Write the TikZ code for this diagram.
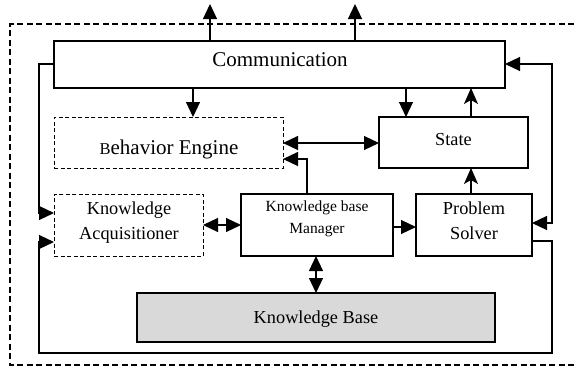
\documentclass[tikz,border=0pt]{standalone}
\usepackage{fontspec}
\setmainfont{Liberation Serif}
\usetikzlibrary{arrows.meta}
\definecolor{kbgray}{RGB}{217,217,217}
\begin{document}
\begin{tikzpicture}[x=1pt,y=-1pt,
  box/.style={draw=black, line width=1.1pt, rectangle, inner sep=0pt, outer sep=0pt, anchor=north west},
  dbox/.style={box, line width=1pt, dash pattern=on 4pt off 2.5pt},
  txt/.style={anchor=base, inner sep=0pt, font=\fontsize{18.3}{20}\selectfont},
  big/.style={txt, font=\fontsize{21}{22}\selectfont},
  small/.style={txt, font=\fontsize{15.5}{17}\selectfont},
  wire/.style={line width=1.1pt},
  tip/.tip={Triangle[length=15pt,width=14pt]},
  tri/.style={wire, -tip},
  tritri/.style={wire, tip-tip},
  stl/.style={wire, -{Stealth[length=16pt,width=14pt,inset=4pt]}},
]
\useasboundingbox (0,0) rectangle (574,368);
\fill[white] (0,0) rectangle (574,368);

% system boundary
\draw[line width=1.3pt, dash pattern=on 6pt off 3.5pt]
  (574,24) -- (10,24) -- (10,365) -- (574,365);

% components
\node[box, minimum width=451pt, minimum height=47pt] (comm) at (54,41) {};
\node[dbox, minimum width=229pt, minimum height=51pt] (be) at (54,117) {};
\node[box, minimum width=149pt, minimum height=51pt] (state) at (379,117) {};
\node[dbox, minimum width=149pt, minimum height=62pt] (ka) at (54,194) {};
\node[box, minimum width=152pt, minimum height=62pt] (kbm) at (241,194) {};
\node[box, minimum width=116pt, minimum height=62pt] (ps) at (416,194) {};
\node[box, fill=kbgray, minimum width=358pt, minimum height=49pt] (kb) at (137,293) {};

% labels
\node[big] (commtxt) at (280,66.5) {Communication};
\node[big] (betxt) at (169,154) {{\fontsize{16.5}{16}\selectfont B}ehavior Engine};
\node[txt] (sttxt) at (453.5,145.5) {State};
\node[txt] (katxt1) at (129,214) {Knowledge};
\node[txt] (katxt2) at (129,239) {Acquisitioner};
\node[small] (kbmtxt1) at (317,211.5) {Knowledge base};
\node[small] (kbmtxt2) at (317,233) {Manager};
\node[txt] (pstxt1) at (474,214) {Problem};
\node[txt] (pstxt2) at (474,239) {Solver};
\node[txt] (kbtxt) at (316,323) {Knowledge Base};

% routing points
\coordinate (outA) at (210,4);
\coordinate (outB) at (355,4);
\coordinate (xbe) at (193,0);
\coordinate (xst) at (406,0);
\coordinate (xup) at (471,0);
\coordinate (ybs) at (0,143);
\coordinate (xk) at (307,159);
\coordinate (lt) at (39,64);
\coordinate (lb) at (39,213);
\coordinate (r1) at (552,241);
\coordinate (r2) at (552,353);
\coordinate (l2) at (39,353);
\coordinate (l1) at (39,242);
\coordinate (rt) at (552,64);
\coordinate (rb) at (552,223);
\coordinate (yka) at (0,225);
\coordinate (yps) at (0,227);
\coordinate (xkb) at (316,0);

% connectors
\draw[tri] (comm.north -| outA) -- (outA);
\draw[tri] (comm.north -| outB) -- (outB);
\draw[tri] (comm.south -| xbe) -- (be.north -| xbe);
\draw[tri] (comm.south -| xst) -- (state.north -| xst);
\draw[stl] (state.north -| xup) -- (comm.south -| xup);
\draw[stl] (ps.north -| xup) -- (state.south -| xup);
\draw[tritri] (be.east |- ybs) -- (state.west |- ybs);
\draw[tri] (kbm.north -| xk) -- (xk) -- (be.east |- xk);
\draw[tri] (comm.west |- lt) -- (lt) -- (lb) -- (ka.west |- lb);
\draw[tri] (ps.east |- r1) -- (r1) -- (r2) -- (l2) -- (l1) -- (ka.west |- l1);
\draw[tritri] (comm.east |- rt) -- (rt) -- (rb) -- (ps.east |- rb);
\draw[tritri] (ka.east |- yka) -- (kbm.west |- yka);
\draw[tri] (kbm.east |- yps) -- (ps.west |- yps);
\draw[tritri] (kbm.south -| xkb) -- (kb.north -| xkb);
\end{tikzpicture}
\end{document}
